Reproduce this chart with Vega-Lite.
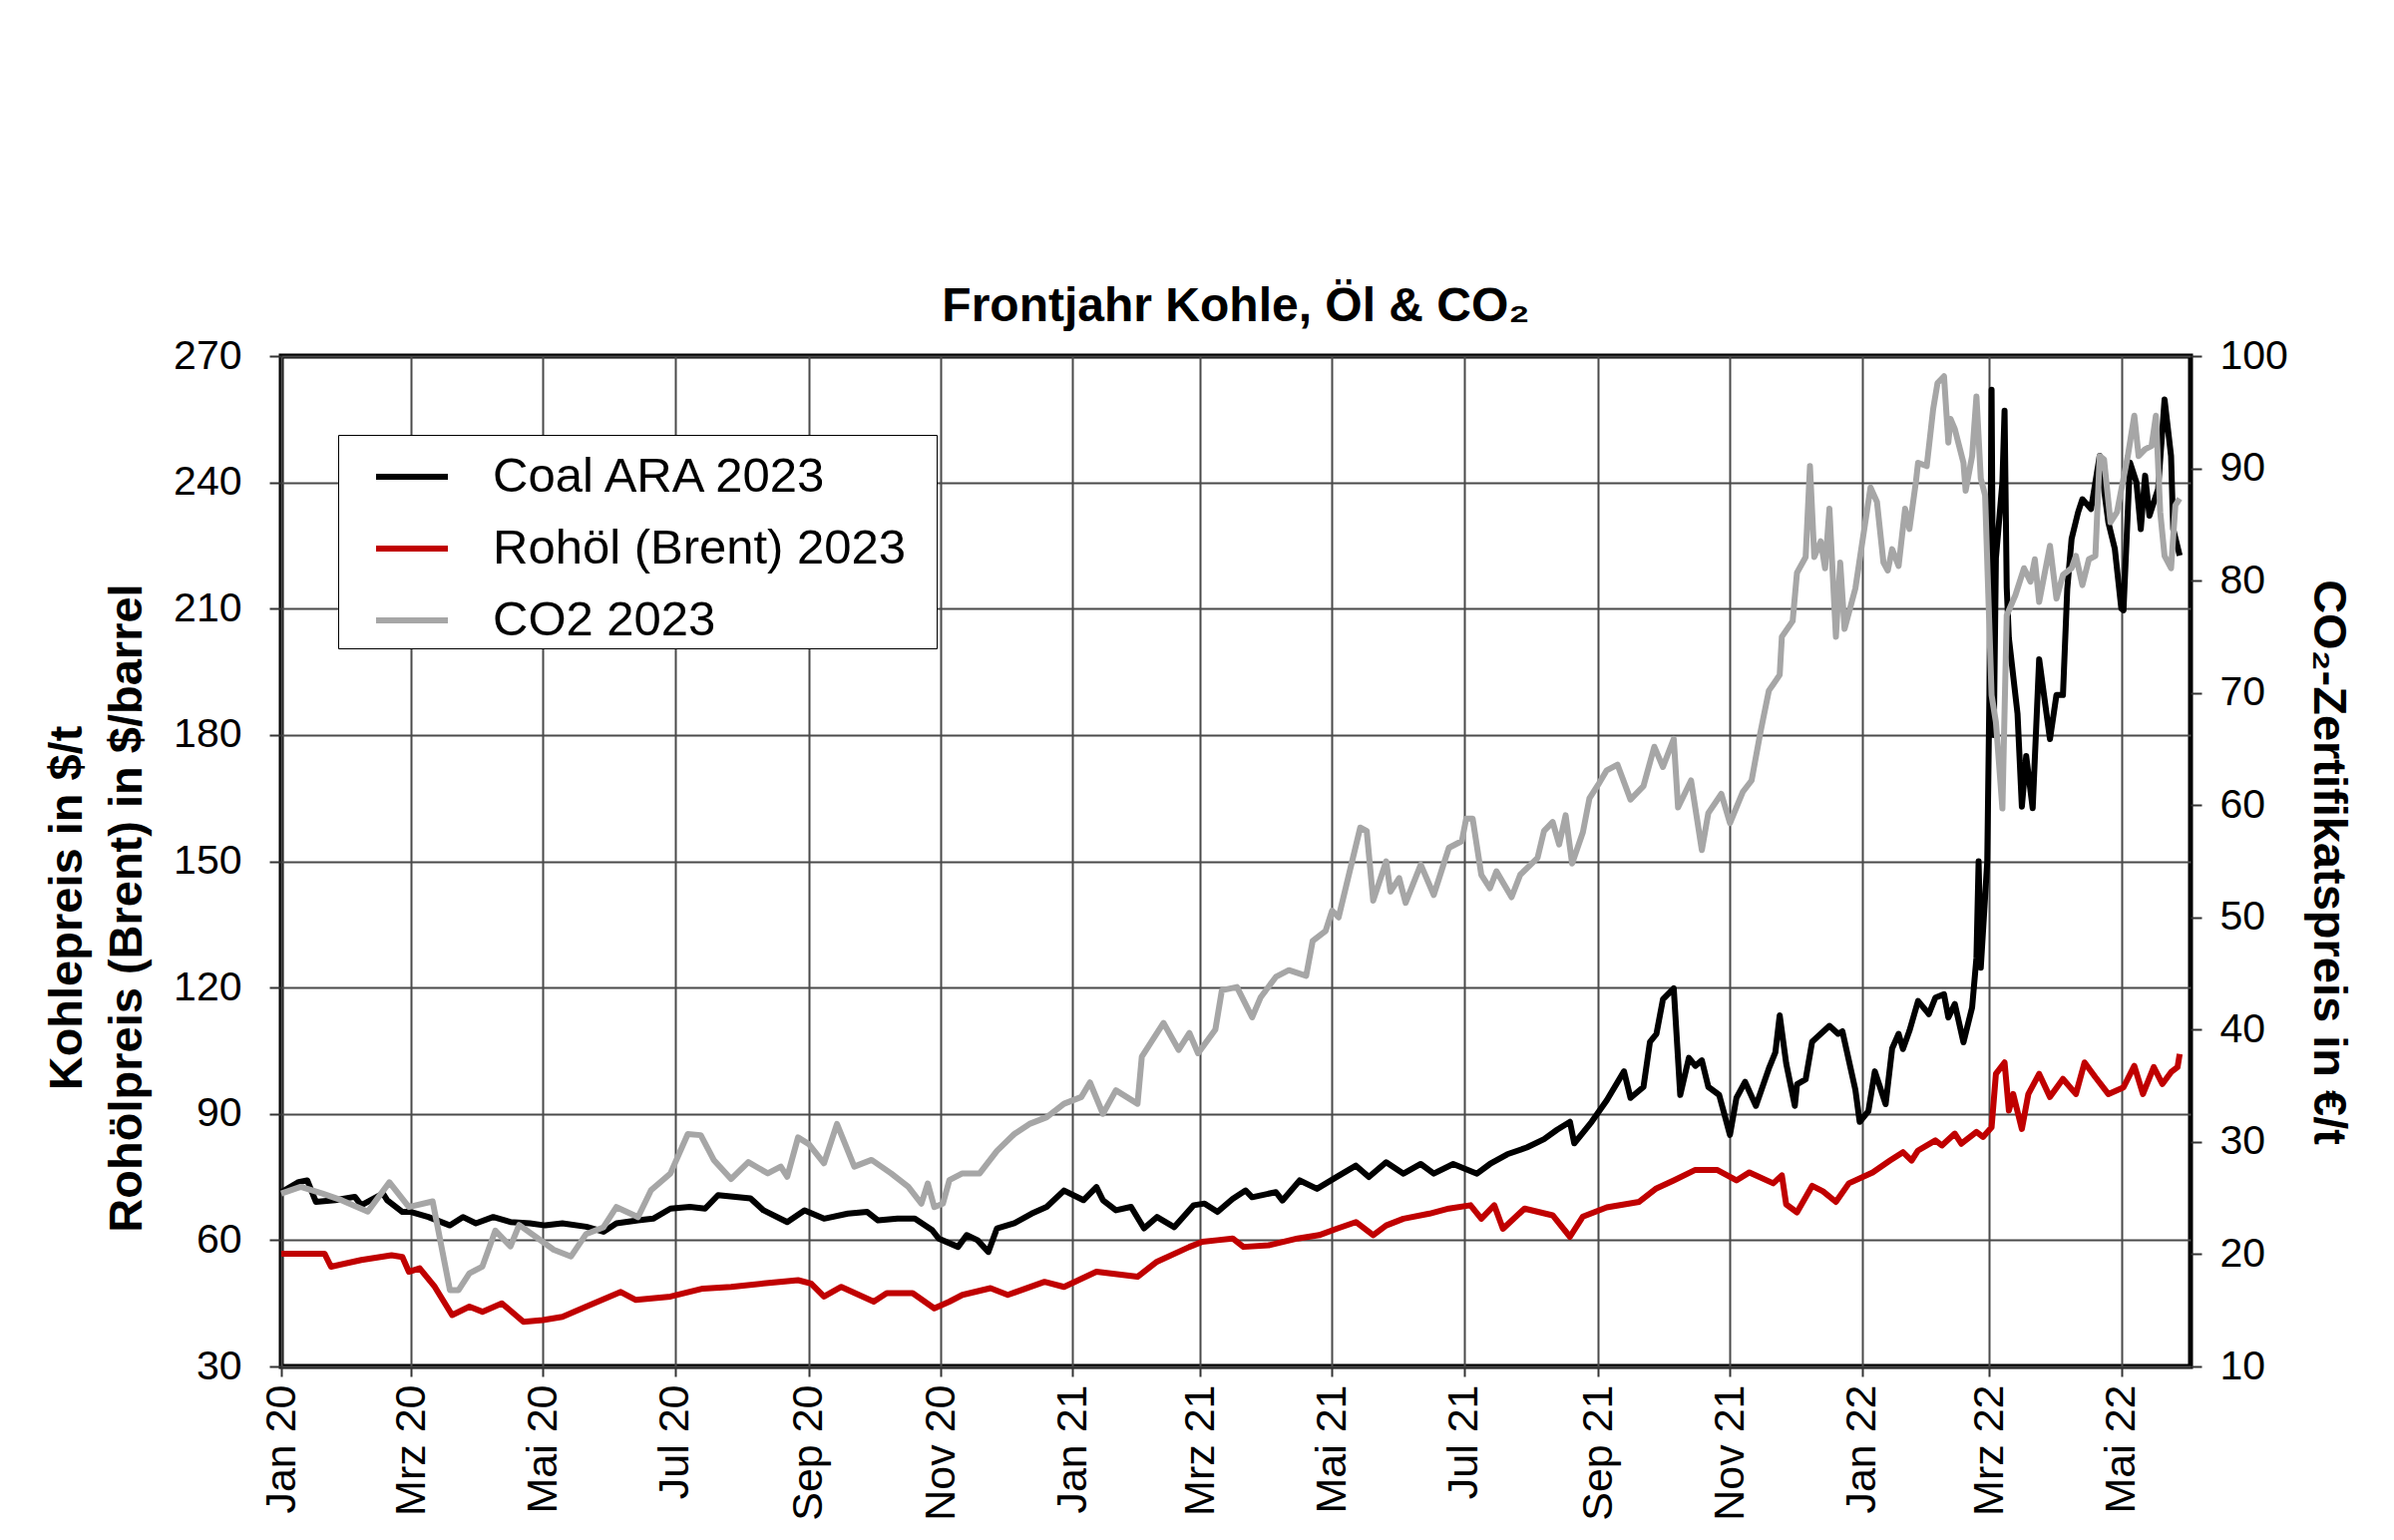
{
"$schema": "https://vega.github.io/schema/vega-lite/v6.json",
"width": 1914, "height": 1013,
"autosize": {"type": "none"},
"padding": {"left": 282, "top": 357, "right": 204, "bottom": 174},
"background": "white",
"config": {"view": {"stroke": "black", "strokeWidth": 5}, "font": "Liberation Sans"},
"title": {"text": "Frontjahr Kohle, Öl & CO₂", "fontSize": 48, "fontWeight": "bold", "font": "Liberation Sans", "color": "black", "offset": 4, "anchor": "middle"},
"datasets": {
"L": [
{"d":"2020-01-01","s":"Coal ARA 2023","v":71.4},{"d":"2020-01-09","s":"Coal ARA 2023","v":73.8},{"d":"2020-01-13","s":"Coal ARA 2023","v":74.2},{"d":"2020-01-17","s":"Coal ARA 2023","v":69.1},{"d":"2020-01-26","s":"Coal ARA 2023","v":69.5},{"d":"2020-02-04","s":"Coal ARA 2023","v":70.3},{"d":"2020-02-07","s":"Coal ARA 2023","v":68.3},{"d":"2020-02-17","s":"Coal ARA 2023","v":71.1},{"d":"2020-02-19","s":"Coal ARA 2023","v":69.5},{"d":"2020-02-26","s":"Coal ARA 2023","v":66.7},{"d":"2020-03-01","s":"Coal ARA 2023","v":66.7},{"d":"2020-03-09","s":"Coal ARA 2023","v":65.5},{"d":"2020-03-19","s":"Coal ARA 2023","v":63.5},{"d":"2020-03-25","s":"Coal ARA 2023","v":65.5},{"d":"2020-03-31","s":"Coal ARA 2023","v":64},{"d":"2020-04-08","s":"Coal ARA 2023","v":65.5},{"d":"2020-04-16","s":"Coal ARA 2023","v":64.3},{"d":"2020-04-25","s":"Coal ARA 2023","v":64},{"d":"2020-05-02","s":"Coal ARA 2023","v":63.5},{"d":"2020-05-10","s":"Coal ARA 2023","v":64},{"d":"2020-05-21","s":"Coal ARA 2023","v":63.2},{"d":"2020-05-29","s":"Coal ARA 2023","v":62},{"d":"2020-06-04","s":"Coal ARA 2023","v":64},{"d":"2020-06-14","s":"Coal ARA 2023","v":64.7},{"d":"2020-06-21","s":"Coal ARA 2023","v":65.1},{"d":"2020-06-29","s":"Coal ARA 2023","v":67.5},{"d":"2020-07-08","s":"Coal ARA 2023","v":67.9},{"d":"2020-07-15","s":"Coal ARA 2023","v":67.5},{"d":"2020-07-21","s":"Coal ARA 2023","v":70.7},{"d":"2020-08-05","s":"Coal ARA 2023","v":69.9},{"d":"2020-08-11","s":"Coal ARA 2023","v":67.1},{"d":"2020-08-22","s":"Coal ARA 2023","v":64.3},{"d":"2020-08-30","s":"Coal ARA 2023","v":67.1},{"d":"2020-09-08","s":"Coal ARA 2023","v":65.1},{"d":"2020-09-19","s":"Coal ARA 2023","v":66.3},{"d":"2020-09-28","s":"Coal ARA 2023","v":66.7},{"d":"2020-10-03","s":"Coal ARA 2023","v":64.7},{"d":"2020-10-12","s":"Coal ARA 2023","v":65.1},{"d":"2020-10-20","s":"Coal ARA 2023","v":65.1},{"d":"2020-10-28","s":"Coal ARA 2023","v":62.4},{"d":"2020-10-31","s":"Coal ARA 2023","v":60.4},{"d":"2020-11-09","s":"Coal ARA 2023","v":58.4},{"d":"2020-11-13","s":"Coal ARA 2023","v":61.2},{"d":"2020-11-18","s":"Coal ARA 2023","v":60},{"d":"2020-11-23","s":"Coal ARA 2023","v":57.2},{"d":"2020-11-27","s":"Coal ARA 2023","v":62.8},{"d":"2020-12-05","s":"Coal ARA 2023","v":64},{"d":"2020-12-13","s":"Coal ARA 2023","v":66.3},{"d":"2020-12-20","s":"Coal ARA 2023","v":67.9},{"d":"2020-12-28","s":"Coal ARA 2023","v":71.8},{"d":"2021-01-06","s":"Coal ARA 2023","v":69.5},{"d":"2021-01-12","s":"Coal ARA 2023","v":72.6},{"d":"2021-01-15","s":"Coal ARA 2023","v":69.5},{"d":"2021-01-21","s":"Coal ARA 2023","v":67.1},{"d":"2021-01-28","s":"Coal ARA 2023","v":67.9},{"d":"2021-02-03","s":"Coal ARA 2023","v":62.8},{"d":"2021-02-09","s":"Coal ARA 2023","v":65.5},{"d":"2021-02-17","s":"Coal ARA 2023","v":63.1},{"d":"2021-02-26","s":"Coal ARA 2023","v":68.3},{"d":"2021-03-03","s":"Coal ARA 2023","v":68.7},{"d":"2021-03-09","s":"Coal ARA 2023","v":66.7},{"d":"2021-03-16","s":"Coal ARA 2023","v":69.8},{"d":"2021-03-22","s":"Coal ARA 2023","v":71.8},{"d":"2021-03-25","s":"Coal ARA 2023","v":70.2},{"d":"2021-04-05","s":"Coal ARA 2023","v":71.4},{"d":"2021-04-08","s":"Coal ARA 2023","v":69.4},{"d":"2021-04-16","s":"Coal ARA 2023","v":74.2},{"d":"2021-04-24","s":"Coal ARA 2023","v":72.2},{"d":"2021-05-03","s":"Coal ARA 2023","v":75},{"d":"2021-05-12","s":"Coal ARA 2023","v":77.7},{"d":"2021-05-18","s":"Coal ARA 2023","v":75},{"d":"2021-05-26","s":"Coal ARA 2023","v":78.5},{"d":"2021-06-03","s":"Coal ARA 2023","v":75.8},{"d":"2021-06-11","s":"Coal ARA 2023","v":78.1},{"d":"2021-06-17","s":"Coal ARA 2023","v":75.8},{"d":"2021-06-26","s":"Coal ARA 2023","v":78.1},{"d":"2021-07-07","s":"Coal ARA 2023","v":75.8},{"d":"2021-07-13","s":"Coal ARA 2023","v":78.1},{"d":"2021-07-21","s":"Coal ARA 2023","v":80.4},{"d":"2021-07-30","s":"Coal ARA 2023","v":82},{"d":"2021-08-07","s":"Coal ARA 2023","v":84},{"d":"2021-08-13","s":"Coal ARA 2023","v":86.2},{"d":"2021-08-19","s":"Coal ARA 2023","v":88.1},{"d":"2021-08-21","s":"Coal ARA 2023","v":83},{"d":"2021-08-29","s":"Coal ARA 2023","v":88.1},{"d":"2021-09-05","s":"Coal ARA 2023","v":93.2},{"d":"2021-09-13","s":"Coal ARA 2023","v":100.1},{"d":"2021-09-16","s":"Coal ARA 2023","v":93.8},{"d":"2021-09-22","s":"Coal ARA 2023","v":96.4},{"d":"2021-09-25","s":"Coal ARA 2023","v":107.1},{"d":"2021-09-28","s":"Coal ARA 2023","v":109},{"d":"2021-10-01","s":"Coal ARA 2023","v":117.2},{"d":"2021-10-06","s":"Coal ARA 2023","v":119.8},{"d":"2021-10-09","s":"Coal ARA 2023","v":94.5},{"d":"2021-10-13","s":"Coal ARA 2023","v":103.3},{"d":"2021-10-16","s":"Coal ARA 2023","v":101.4},{"d":"2021-10-19","s":"Coal ARA 2023","v":102.7},{"d":"2021-10-22","s":"Coal ARA 2023","v":96.4},{"d":"2021-10-27","s":"Coal ARA 2023","v":94.5},{"d":"2021-11-01","s":"Coal ARA 2023","v":85},{"d":"2021-11-04","s":"Coal ARA 2023","v":93.8},{"d":"2021-11-08","s":"Coal ARA 2023","v":97.6},{"d":"2021-11-13","s":"Coal ARA 2023","v":91.9},{"d":"2021-11-19","s":"Coal ARA 2023","v":100.8},{"d":"2021-11-22","s":"Coal ARA 2023","v":104.6},{"d":"2021-11-24","s":"Coal ARA 2023","v":113.4},{"d":"2021-11-27","s":"Coal ARA 2023","v":102},{"d":"2021-12-01","s":"Coal ARA 2023","v":91.9},{"d":"2021-12-02","s":"Coal ARA 2023","v":97},{"d":"2021-12-06","s":"Coal ARA 2023","v":98.2},{"d":"2021-12-09","s":"Coal ARA 2023","v":107.1},{"d":"2021-12-17","s":"Coal ARA 2023","v":110.9},{"d":"2021-12-21","s":"Coal ARA 2023","v":109},{"d":"2021-12-23","s":"Coal ARA 2023","v":109.6},{"d":"2021-12-29","s":"Coal ARA 2023","v":95.7},{"d":"2021-12-31","s":"Coal ARA 2023","v":88.1},{"d":"2022-01-04","s":"Coal ARA 2023","v":90.6},{"d":"2022-01-07","s":"Coal ARA 2023","v":100.1},{"d":"2022-01-12","s":"Coal ARA 2023","v":92.3},{"d":"2022-01-15","s":"Coal ARA 2023","v":105.5},{"d":"2022-01-18","s":"Coal ARA 2023","v":109},{"d":"2022-01-20","s":"Coal ARA 2023","v":105.4},{"d":"2022-01-23","s":"Coal ARA 2023","v":109.7},{"d":"2022-01-27","s":"Coal ARA 2023","v":116.8},{"d":"2022-02-01","s":"Coal ARA 2023","v":113.7},{"d":"2022-02-04","s":"Coal ARA 2023","v":117.6},{"d":"2022-02-08","s":"Coal ARA 2023","v":118.4},{"d":"2022-02-10","s":"Coal ARA 2023","v":112.9},{"d":"2022-02-13","s":"Coal ARA 2023","v":116.1},{"d":"2022-02-17","s":"Coal ARA 2023","v":107},{"d":"2022-02-21","s":"Coal ARA 2023","v":115.3},{"d":"2022-02-23","s":"Coal ARA 2023","v":127.1},{"d":"2022-02-24","s":"Coal ARA 2023","v":150},{"d":"2022-02-25","s":"Coal ARA 2023","v":124.7},{"d":"2022-02-28","s":"Coal ARA 2023","v":150},{"d":"2022-03-01","s":"Coal ARA 2023","v":190},{"d":"2022-03-02","s":"Coal ARA 2023","v":262},{"d":"2022-03-03","s":"Coal ARA 2023","v":180},{"d":"2022-03-04","s":"Coal ARA 2023","v":222},{"d":"2022-03-07","s":"Coal ARA 2023","v":240},{"d":"2022-03-08","s":"Coal ARA 2023","v":257},{"d":"2022-03-09","s":"Coal ARA 2023","v":215},{"d":"2022-03-10","s":"Coal ARA 2023","v":203},{"d":"2022-03-14","s":"Coal ARA 2023","v":185},{"d":"2022-03-16","s":"Coal ARA 2023","v":163},{"d":"2022-03-18","s":"Coal ARA 2023","v":175},{"d":"2022-03-21","s":"Coal ARA 2023","v":162.6},{"d":"2022-03-24","s":"Coal ARA 2023","v":198},{"d":"2022-03-29","s":"Coal ARA 2023","v":179},{"d":"2022-04-01","s":"Coal ARA 2023","v":189.5},{"d":"2022-04-04","s":"Coal ARA 2023","v":189.5},{"d":"2022-04-06","s":"Coal ARA 2023","v":214.7},{"d":"2022-04-08","s":"Coal ARA 2023","v":226.6},{"d":"2022-04-11","s":"Coal ARA 2023","v":232.9},{"d":"2022-04-13","s":"Coal ARA 2023","v":236},{"d":"2022-04-17","s":"Coal ARA 2023","v":233.7},{"d":"2022-04-21","s":"Coal ARA 2023","v":246.3},{"d":"2022-04-25","s":"Coal ARA 2023","v":230.5},{"d":"2022-04-28","s":"Coal ARA 2023","v":224.2},{"d":"2022-05-01","s":"Coal ARA 2023","v":210},{"d":"2022-05-02","s":"Coal ARA 2023","v":209.6},{"d":"2022-05-05","s":"Coal ARA 2023","v":244.7},{"d":"2022-05-08","s":"Coal ARA 2023","v":240},{"d":"2022-05-10","s":"Coal ARA 2023","v":228.9},{"d":"2022-05-12","s":"Coal ARA 2023","v":241.6},{"d":"2022-05-14","s":"Coal ARA 2023","v":232.1},{"d":"2022-05-18","s":"Coal ARA 2023","v":238.4},{"d":"2022-05-21","s":"Coal ARA 2023","v":259.7},{"d":"2022-05-24","s":"Coal ARA 2023","v":246.3},{"d":"2022-05-25","s":"Coal ARA 2023","v":228.9},{"d":"2022-05-28","s":"Coal ARA 2023","v":222.6},
{"d":"2020-01-01","s":"Rohöl (Brent) 2023","v":56.8},{"d":"2020-01-21","s":"Rohöl (Brent) 2023","v":56.8},{"d":"2020-01-24","s":"Rohöl (Brent) 2023","v":53.7},{"d":"2020-02-07","s":"Rohöl (Brent) 2023","v":55.3},{"d":"2020-02-21","s":"Rohöl (Brent) 2023","v":56.4},{"d":"2020-02-26","s":"Rohöl (Brent) 2023","v":56},{"d":"2020-02-29","s":"Rohöl (Brent) 2023","v":52.5},{"d":"2020-03-05","s":"Rohöl (Brent) 2023","v":53.3},{"d":"2020-03-12","s":"Rohöl (Brent) 2023","v":48.9},{"d":"2020-03-20","s":"Rohöl (Brent) 2023","v":42.2},{"d":"2020-03-28","s":"Rohöl (Brent) 2023","v":44.2},{"d":"2020-04-03","s":"Rohöl (Brent) 2023","v":43},{"d":"2020-04-12","s":"Rohöl (Brent) 2023","v":45},{"d":"2020-04-22","s":"Rohöl (Brent) 2023","v":40.6},{"d":"2020-05-01","s":"Rohöl (Brent) 2023","v":41},{"d":"2020-05-10","s":"Rohöl (Brent) 2023","v":41.8},{"d":"2020-05-21","s":"Rohöl (Brent) 2023","v":44.2},{"d":"2020-06-06","s":"Rohöl (Brent) 2023","v":47.7},{"d":"2020-06-13","s":"Rohöl (Brent) 2023","v":45.8},{"d":"2020-06-29","s":"Rohöl (Brent) 2023","v":46.6},{"d":"2020-07-14","s":"Rohöl (Brent) 2023","v":48.5},{"d":"2020-07-27","s":"Rohöl (Brent) 2023","v":48.9},{"d":"2020-08-11","s":"Rohöl (Brent) 2023","v":49.7},{"d":"2020-08-27","s":"Rohöl (Brent) 2023","v":50.5},{"d":"2020-09-02","s":"Rohöl (Brent) 2023","v":49.7},{"d":"2020-09-08","s":"Rohöl (Brent) 2023","v":46.6},{"d":"2020-09-16","s":"Rohöl (Brent) 2023","v":48.9},{"d":"2020-10-01","s":"Rohöl (Brent) 2023","v":45.4},{"d":"2020-10-07","s":"Rohöl (Brent) 2023","v":47.4},{"d":"2020-10-19","s":"Rohöl (Brent) 2023","v":47.4},{"d":"2020-10-29","s":"Rohöl (Brent) 2023","v":43.8},{"d":"2020-11-05","s":"Rohöl (Brent) 2023","v":45.4},{"d":"2020-11-11","s":"Rohöl (Brent) 2023","v":47},{"d":"2020-11-24","s":"Rohöl (Brent) 2023","v":48.6},{"d":"2020-12-02","s":"Rohöl (Brent) 2023","v":47},{"d":"2020-12-19","s":"Rohöl (Brent) 2023","v":50.1},{"d":"2020-12-28","s":"Rohöl (Brent) 2023","v":48.9},{"d":"2021-01-12","s":"Rohöl (Brent) 2023","v":52.5},{"d":"2021-01-31","s":"Rohöl (Brent) 2023","v":51.3},{"d":"2021-02-09","s":"Rohöl (Brent) 2023","v":54.9},{"d":"2021-02-24","s":"Rohöl (Brent) 2023","v":58.4},{"d":"2021-03-02","s":"Rohöl (Brent) 2023","v":59.6},{"d":"2021-03-09","s":"Rohöl (Brent) 2023","v":60},{"d":"2021-03-16","s":"Rohöl (Brent) 2023","v":60.4},{"d":"2021-03-21","s":"Rohöl (Brent) 2023","v":58.4},{"d":"2021-04-02","s":"Rohöl (Brent) 2023","v":58.8},{"d":"2021-04-15","s":"Rohöl (Brent) 2023","v":60.4},{"d":"2021-04-25","s":"Rohöl (Brent) 2023","v":61.2},{"d":"2021-05-03","s":"Rohöl (Brent) 2023","v":62.7},{"d":"2021-05-12","s":"Rohöl (Brent) 2023","v":64.3},{"d":"2021-05-20","s":"Rohöl (Brent) 2023","v":61.2},{"d":"2021-05-26","s":"Rohöl (Brent) 2023","v":63.5},{"d":"2021-06-03","s":"Rohöl (Brent) 2023","v":65.1},{"d":"2021-06-15","s":"Rohöl (Brent) 2023","v":66.3},{"d":"2021-06-24","s":"Rohöl (Brent) 2023","v":67.5},{"d":"2021-07-04","s":"Rohöl (Brent) 2023","v":68.3},{"d":"2021-07-09","s":"Rohöl (Brent) 2023","v":65.1},{"d":"2021-07-15","s":"Rohöl (Brent) 2023","v":68.3},{"d":"2021-07-19","s":"Rohöl (Brent) 2023","v":62.7},{"d":"2021-07-29","s":"Rohöl (Brent) 2023","v":67.5},{"d":"2021-08-11","s":"Rohöl (Brent) 2023","v":65.9},{"d":"2021-08-19","s":"Rohöl (Brent) 2023","v":60.8},{"d":"2021-08-25","s":"Rohöl (Brent) 2023","v":65.6},{"d":"2021-09-05","s":"Rohöl (Brent) 2023","v":67.8},{"d":"2021-09-20","s":"Rohöl (Brent) 2023","v":69.1},{"d":"2021-09-28","s":"Rohöl (Brent) 2023","v":72.3},{"d":"2021-10-06","s":"Rohöl (Brent) 2023","v":74.2},{"d":"2021-10-16","s":"Rohöl (Brent) 2023","v":76.7},{"d":"2021-10-26","s":"Rohöl (Brent) 2023","v":76.7},{"d":"2021-11-04","s":"Rohöl (Brent) 2023","v":74.2},{"d":"2021-11-10","s":"Rohöl (Brent) 2023","v":76.1},{"d":"2021-11-21","s":"Rohöl (Brent) 2023","v":73.5},{"d":"2021-11-25","s":"Rohöl (Brent) 2023","v":75.4},{"d":"2021-11-27","s":"Rohöl (Brent) 2023","v":68.5},{"d":"2021-12-02","s":"Rohöl (Brent) 2023","v":66.6},{"d":"2021-12-09","s":"Rohöl (Brent) 2023","v":72.9},{"d":"2021-12-14","s":"Rohöl (Brent) 2023","v":71.6},{"d":"2021-12-20","s":"Rohöl (Brent) 2023","v":69.1},{"d":"2021-12-26","s":"Rohöl (Brent) 2023","v":73.5},{"d":"2022-01-06","s":"Rohöl (Brent) 2023","v":76.1},{"d":"2022-01-14","s":"Rohöl (Brent) 2023","v":78.9},{"d":"2022-01-20","s":"Rohöl (Brent) 2023","v":80.9},{"d":"2022-01-24","s":"Rohöl (Brent) 2023","v":78.9},{"d":"2022-01-27","s":"Rohöl (Brent) 2023","v":81.3},{"d":"2022-02-04","s":"Rohöl (Brent) 2023","v":83.7},{"d":"2022-02-07","s":"Rohöl (Brent) 2023","v":82.5},{"d":"2022-02-13","s":"Rohöl (Brent) 2023","v":85.3},{"d":"2022-02-16","s":"Rohöl (Brent) 2023","v":82.9},{"d":"2022-02-23","s":"Rohöl (Brent) 2023","v":85.7},{"d":"2022-02-26","s":"Rohöl (Brent) 2023","v":84.5},{"d":"2022-03-02","s":"Rohöl (Brent) 2023","v":86.8},{"d":"2022-03-04","s":"Rohöl (Brent) 2023","v":99.5},{"d":"2022-03-08","s":"Rohöl (Brent) 2023","v":102.2},{"d":"2022-03-10","s":"Rohöl (Brent) 2023","v":90.8},{"d":"2022-03-12","s":"Rohöl (Brent) 2023","v":94.7},{"d":"2022-03-16","s":"Rohöl (Brent) 2023","v":86.4},{"d":"2022-03-19","s":"Rohöl (Brent) 2023","v":94.7},{"d":"2022-03-24","s":"Rohöl (Brent) 2023","v":99.5},{"d":"2022-03-29","s":"Rohöl (Brent) 2023","v":94},{"d":"2022-04-04","s":"Rohöl (Brent) 2023","v":98.3},{"d":"2022-04-10","s":"Rohöl (Brent) 2023","v":94.7},{"d":"2022-04-14","s":"Rohöl (Brent) 2023","v":102.2},{"d":"2022-04-19","s":"Rohöl (Brent) 2023","v":98.7},{"d":"2022-04-25","s":"Rohöl (Brent) 2023","v":94.7},{"d":"2022-05-02","s":"Rohöl (Brent) 2023","v":96.3},{"d":"2022-05-07","s":"Rohöl (Brent) 2023","v":101.4},{"d":"2022-05-11","s":"Rohöl (Brent) 2023","v":94.7},{"d":"2022-05-16","s":"Rohöl (Brent) 2023","v":101.1},{"d":"2022-05-20","s":"Rohöl (Brent) 2023","v":97.1},{"d":"2022-05-24","s":"Rohöl (Brent) 2023","v":99.9},{"d":"2022-05-27","s":"Rohöl (Brent) 2023","v":101.1},{"d":"2022-05-28","s":"Rohöl (Brent) 2023","v":104.2}
],
"C": [
{"d":"2020-01-01","s":"CO2 2023","v":25.4},{"d":"2020-01-10","s":"CO2 2023","v":26},{"d":"2020-01-20","s":"CO2 2023","v":25.4},{"d":"2020-01-29","s":"CO2 2023","v":24.8},{"d":"2020-02-10","s":"CO2 2023","v":23.8},{"d":"2020-02-20","s":"CO2 2023","v":26.4},{"d":"2020-02-29","s":"CO2 2023","v":24.2},{"d":"2020-03-11","s":"CO2 2023","v":24.7},{"d":"2020-03-19","s":"CO2 2023","v":16.8},{"d":"2020-03-23","s":"CO2 2023","v":16.8},{"d":"2020-03-28","s":"CO2 2023","v":18.3},{"d":"2020-04-03","s":"CO2 2023","v":18.9},{"d":"2020-04-09","s":"CO2 2023","v":22.1},{"d":"2020-04-16","s":"CO2 2023","v":20.7},{"d":"2020-04-20","s":"CO2 2023","v":22.6},{"d":"2020-04-28","s":"CO2 2023","v":21.5},{"d":"2020-05-06","s":"CO2 2023","v":20.4},{"d":"2020-05-14","s":"CO2 2023","v":19.8},{"d":"2020-05-21","s":"CO2 2023","v":21.8},{"d":"2020-05-29","s":"CO2 2023","v":22.4},{"d":"2020-06-04","s":"CO2 2023","v":24.2},{"d":"2020-06-14","s":"CO2 2023","v":23.3},{"d":"2020-06-20","s":"CO2 2023","v":25.7},{"d":"2020-06-29","s":"CO2 2023","v":27.2},{"d":"2020-07-07","s":"CO2 2023","v":30.7},{"d":"2020-07-13","s":"CO2 2023","v":30.6},{"d":"2020-07-19","s":"CO2 2023","v":28.4},{"d":"2020-07-27","s":"CO2 2023","v":26.7},{"d":"2020-08-04","s":"CO2 2023","v":28.2},{"d":"2020-08-13","s":"CO2 2023","v":27.2},{"d":"2020-08-19","s":"CO2 2023","v":27.8},{"d":"2020-08-22","s":"CO2 2023","v":26.9},{"d":"2020-08-27","s":"CO2 2023","v":30.4},{"d":"2020-09-01","s":"CO2 2023","v":29.8},{"d":"2020-09-08","s":"CO2 2023","v":28.1},{"d":"2020-09-14","s":"CO2 2023","v":31.6},{"d":"2020-09-22","s":"CO2 2023","v":27.8},{"d":"2020-09-30","s":"CO2 2023","v":28.4},{"d":"2020-10-09","s":"CO2 2023","v":27.2},{"d":"2020-10-17","s":"CO2 2023","v":26},{"d":"2020-10-23","s":"CO2 2023","v":24.5},{"d":"2020-10-26","s":"CO2 2023","v":26.3},{"d":"2020-10-29","s":"CO2 2023","v":24.2},{"d":"2020-11-02","s":"CO2 2023","v":24.5},{"d":"2020-11-05","s":"CO2 2023","v":26.6},{"d":"2020-11-11","s":"CO2 2023","v":27.2},{"d":"2020-11-19","s":"CO2 2023","v":27.2},{"d":"2020-11-27","s":"CO2 2023","v":29.2},{"d":"2020-12-05","s":"CO2 2023","v":30.7},{"d":"2020-12-12","s":"CO2 2023","v":31.6},{"d":"2020-12-20","s":"CO2 2023","v":32.2},{"d":"2020-12-28","s":"CO2 2023","v":33.4},{"d":"2021-01-05","s":"CO2 2023","v":34},{"d":"2021-01-09","s":"CO2 2023","v":35.3},{"d":"2021-01-15","s":"CO2 2023","v":32.5},{"d":"2021-01-21","s":"CO2 2023","v":34.6},{"d":"2021-01-31","s":"CO2 2023","v":33.4},{"d":"2021-02-02","s":"CO2 2023","v":37.6},{"d":"2021-02-06","s":"CO2 2023","v":38.8},{"d":"2021-02-12","s":"CO2 2023","v":40.6},{"d":"2021-02-19","s":"CO2 2023","v":38.2},{"d":"2021-02-24","s":"CO2 2023","v":39.7},{"d":"2021-02-28","s":"CO2 2023","v":37.9},{"d":"2021-03-08","s":"CO2 2023","v":40},{"d":"2021-03-11","s":"CO2 2023","v":43.5},{"d":"2021-03-18","s":"CO2 2023","v":43.8},{"d":"2021-03-25","s":"CO2 2023","v":41.1},{"d":"2021-03-29","s":"CO2 2023","v":42.9},{"d":"2021-04-05","s":"CO2 2023","v":44.7},{"d":"2021-04-11","s":"CO2 2023","v":45.3},{"d":"2021-04-19","s":"CO2 2023","v":44.8},{"d":"2021-04-22","s":"CO2 2023","v":47.9},{"d":"2021-04-28","s":"CO2 2023","v":48.8},{"d":"2021-05-01","s":"CO2 2023","v":50.6},{"d":"2021-05-04","s":"CO2 2023","v":50},{"d":"2021-05-14","s":"CO2 2023","v":58},{"d":"2021-05-17","s":"CO2 2023","v":57.7},{"d":"2021-05-20","s":"CO2 2023","v":51.5},{"d":"2021-05-26","s":"CO2 2023","v":55},{"d":"2021-05-28","s":"CO2 2023","v":52.3},{"d":"2021-06-01","s":"CO2 2023","v":53.5},{"d":"2021-06-04","s":"CO2 2023","v":51.3},{"d":"2021-06-11","s":"CO2 2023","v":54.7},{"d":"2021-06-17","s":"CO2 2023","v":52},{"d":"2021-06-24","s":"CO2 2023","v":56.2},{"d":"2021-06-30","s":"CO2 2023","v":56.8},{"d":"2021-07-02","s":"CO2 2023","v":58.8},{"d":"2021-07-05","s":"CO2 2023","v":58.8},{"d":"2021-07-09","s":"CO2 2023","v":53.8},{"d":"2021-07-13","s":"CO2 2023","v":52.6},{"d":"2021-07-16","s":"CO2 2023","v":54.1},{"d":"2021-07-23","s":"CO2 2023","v":51.8},{"d":"2021-07-27","s":"CO2 2023","v":53.8},{"d":"2021-08-04","s":"CO2 2023","v":55.3},{"d":"2021-08-07","s":"CO2 2023","v":57.7},{"d":"2021-08-11","s":"CO2 2023","v":58.5},{"d":"2021-08-14","s":"CO2 2023","v":56.5},{"d":"2021-08-17","s":"CO2 2023","v":59.1},{"d":"2021-08-20","s":"CO2 2023","v":54.8},{"d":"2021-08-25","s":"CO2 2023","v":57.6},{"d":"2021-08-28","s":"CO2 2023","v":60.6},{"d":"2021-09-01","s":"CO2 2023","v":61.8},{"d":"2021-09-05","s":"CO2 2023","v":63.1},{"d":"2021-09-10","s":"CO2 2023","v":63.6},{"d":"2021-09-16","s":"CO2 2023","v":60.5},{"d":"2021-09-22","s":"CO2 2023","v":61.7},{"d":"2021-09-27","s":"CO2 2023","v":65.2},{"d":"2021-10-01","s":"CO2 2023","v":63.4},{"d":"2021-10-06","s":"CO2 2023","v":65.9},{"d":"2021-10-08","s":"CO2 2023","v":59.8},{"d":"2021-10-14","s":"CO2 2023","v":62.2},{"d":"2021-10-19","s":"CO2 2023","v":56},{"d":"2021-10-22","s":"CO2 2023","v":59.3},{"d":"2021-10-28","s":"CO2 2023","v":61},{"d":"2021-11-01","s":"CO2 2023","v":58.4},{"d":"2021-11-07","s":"CO2 2023","v":61.2},{"d":"2021-11-11","s":"CO2 2023","v":62.2},{"d":"2021-11-15","s":"CO2 2023","v":66.4},{"d":"2021-11-19","s":"CO2 2023","v":70.2},{"d":"2021-11-24","s":"CO2 2023","v":71.6},{"d":"2021-11-25","s":"CO2 2023","v":75},{"d":"2021-11-30","s":"CO2 2023","v":76.4},{"d":"2021-12-02","s":"CO2 2023","v":80.7},{"d":"2021-12-06","s":"CO2 2023","v":82.1},{"d":"2021-12-08","s":"CO2 2023","v":90.2},{"d":"2021-12-10","s":"CO2 2023","v":82.1},{"d":"2021-12-13","s":"CO2 2023","v":83.5},{"d":"2021-12-15","s":"CO2 2023","v":81.1},{"d":"2021-12-17","s":"CO2 2023","v":86.4},{"d":"2021-12-20","s":"CO2 2023","v":75},{"d":"2021-12-22","s":"CO2 2023","v":81.6},{"d":"2021-12-24","s":"CO2 2023","v":75.7},{"d":"2021-12-29","s":"CO2 2023","v":79.3},{"d":"2022-01-05","s":"CO2 2023","v":88.3},{"d":"2022-01-08","s":"CO2 2023","v":87},{"d":"2022-01-11","s":"CO2 2023","v":81.6},{"d":"2022-01-13","s":"CO2 2023","v":80.9},{"d":"2022-01-15","s":"CO2 2023","v":82.8},{"d":"2022-01-18","s":"CO2 2023","v":81.3},{"d":"2022-01-21","s":"CO2 2023","v":86.4},{"d":"2022-01-23","s":"CO2 2023","v":84.6},{"d":"2022-01-26","s":"CO2 2023","v":88.8},{"d":"2022-01-27","s":"CO2 2023","v":90.5},{"d":"2022-01-31","s":"CO2 2023","v":90.2},{"d":"2022-02-03","s":"CO2 2023","v":95.3},{"d":"2022-02-05","s":"CO2 2023","v":97.6},{"d":"2022-02-08","s":"CO2 2023","v":98.2},{"d":"2022-02-10","s":"CO2 2023","v":92.3},{"d":"2022-02-11","s":"CO2 2023","v":94.4},{"d":"2022-02-13","s":"CO2 2023","v":93.5},{"d":"2022-02-17","s":"CO2 2023","v":90.5},{"d":"2022-02-18","s":"CO2 2023","v":88},{"d":"2022-02-21","s":"CO2 2023","v":91.1},{"d":"2022-02-23","s":"CO2 2023","v":96.4},{"d":"2022-02-25","s":"CO2 2023","v":89.1},{"d":"2022-02-27","s":"CO2 2023","v":87.6},{"d":"2022-03-02","s":"CO2 2023","v":69.8},{"d":"2022-03-04","s":"CO2 2023","v":67.4},{"d":"2022-03-07","s":"CO2 2023","v":59.7},{"d":"2022-03-09","s":"CO2 2023","v":76.9},{"d":"2022-03-13","s":"CO2 2023","v":78.7},{"d":"2022-03-17","s":"CO2 2023","v":81.1},{"d":"2022-03-20","s":"CO2 2023","v":79.9},{"d":"2022-03-22","s":"CO2 2023","v":81.9},{"d":"2022-03-24","s":"CO2 2023","v":78.1},{"d":"2022-03-29","s":"CO2 2023","v":83.1},{"d":"2022-04-01","s":"CO2 2023","v":78.4},{"d":"2022-04-04","s":"CO2 2023","v":80.5},{"d":"2022-04-08","s":"CO2 2023","v":81.1},{"d":"2022-04-10","s":"CO2 2023","v":82.2},{"d":"2022-04-13","s":"CO2 2023","v":79.6},{"d":"2022-04-16","s":"CO2 2023","v":81.9},{"d":"2022-04-19","s":"CO2 2023","v":82.2},{"d":"2022-04-21","s":"CO2 2023","v":91.1},{"d":"2022-04-23","s":"CO2 2023","v":90.8},{"d":"2022-04-26","s":"CO2 2023","v":85.2},{"d":"2022-04-29","s":"CO2 2023","v":86.1},{"d":"2022-05-04","s":"CO2 2023","v":91.1},{"d":"2022-05-07","s":"CO2 2023","v":94.7},{"d":"2022-05-09","s":"CO2 2023","v":91.1},{"d":"2022-05-12","s":"CO2 2023","v":91.7},{"d":"2022-05-15","s":"CO2 2023","v":92},{"d":"2022-05-17","s":"CO2 2023","v":94.7},{"d":"2022-05-19","s":"CO2 2023","v":86.1},{"d":"2022-05-21","s":"CO2 2023","v":82.2},{"d":"2022-05-24","s":"CO2 2023","v":81.1},{"d":"2022-05-26","s":"CO2 2023","v":86.7},{"d":"2022-05-28","s":"CO2 2023","v":87.3}
]
},
"layer": [
{
"data": {"name": "L"},
"mark": {"type": "line", "strokeWidth": 6, "strokeJoin": "round"},
"encoding": {
"x": {"field": "d", "type": "temporal",
 "scale": {"type": "utc", "domain": [{"year": 2020, "month": 1, "date": 1, "utc": true}, {"year": 2022, "month": 6, "date": 2, "utc": true}], "nice": false},
 "axis": {"title": null, "tickCount": {"interval": "month", "step": 2},
  "labelExpr": "['Jan','Feb','Mrz','Apr','Mai','Jun','Jul','Aug','Sep','Okt','Nov','Dez'][utcmonth(datum.value)] + ' ' + utcFormat(datum.value, '%y')",
  "labelAngle": -90, "labelAlign": "right", "labelBaseline": "middle", "labelFontSize": 43, "labelFont": "Liberation Sans", "labelColor": "black", "labelPadding": 8, "labelFlush": false, "labelOverlap": false,
  "tickSize": 10, "tickColor": "#333333", "tickWidth": 2, "grid": true, "gridColor": "#4a4a4a", "gridWidth": 2, "domain": false}},
"y": {"field": "v", "type": "quantitative",
 "scale": {"domain": [30, 270], "nice": false, "zero": false},
 "axis": {"values": [30, 60, 90, 120, 150, 180, 210, 240, 270],
  "title": ["Kohlepreis in $/t", "Rohölpreis (Brent) in $/barrel"], "titleFontSize": 47, "titleFont": "Liberation Sans", "titleFontWeight": "bold", "titleColor": "black", "titleLineHeight": 60,
  "titleAngle": -90, "titleX": -215, "titleY": 553, "titleAlign": "center", "titleBaseline": "middle",
  "labelFontSize": 41, "labelFont": "Liberation Sans", "labelColor": "black", "labelPadding": 28,
  "tickSize": 12, "tickColor": "#333333", "tickWidth": 2, "grid": true, "gridColor": "#4a4a4a", "gridWidth": 2, "domain": false}},
"color": {"field": "s", "type": "nominal",
 "scale": {"domain": ["Coal ARA 2023", "Rohöl (Brent) 2023", "CO2 2023"], "range": ["#000000", "#C00000", "#A6A6A6"]},
 "legend": {"orient": "none", "legendX": 57, "legendY": 79, "title": null,
  "symbolType": "stroke", "symbolSize": 5184, "symbolStrokeWidth": 6,
  "labelFontSize": 49, "labelFont": "Liberation Sans", "labelColor": "black", "labelLimit": 900, "labelOffset": 42,
  "labelExpr": "datum.label + '\u00a0\u00a0\u200b'",
  "rowPadding": 8, "padding": 3, "symbolOffset": 32,
  "strokeColor": "black", "fillColor": "white"}}
}
},
{
"data": {"name": "C"},
"mark": {"type": "line", "strokeWidth": 6, "strokeJoin": "round"},
"encoding": {
"x": {"field": "d", "type": "temporal"},
"y": {"field": "v", "type": "quantitative",
 "scale": {"domain": [10, 100], "nice": false, "zero": false},
 "axis": {"orient": "right", "values": [10, 20, 30, 40, 50, 60, 70, 80, 90, 100],
  "title": "CO₂-Zertifikatspreis in €/t", "titleFontSize": 47, "titleFont": "Liberation Sans", "titleFontWeight": "bold", "titleColor": "black",
  "titleAngle": 90, "titleX": 137, "titleY": 507, "titleAlign": "center", "titleBaseline": "middle",
  "labelFontSize": 41, "labelFont": "Liberation Sans", "labelColor": "black", "labelPadding": 18,
  "tickSize": 11, "tickColor": "#333333", "tickWidth": 2, "grid": false, "domain": false}},
"color": {"field": "s", "type": "nominal"}
}
}
],
"resolve": {"scale": {"y": "independent"}, "axis": {"y": "independent"}}
}
